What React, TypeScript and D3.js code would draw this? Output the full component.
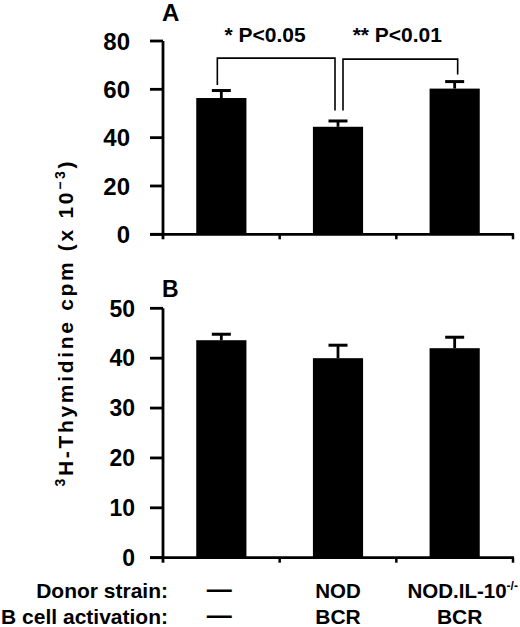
import * as d3 from "d3";
import React from "react";

// groups along the x axis
const groups = ["ctrl", "NOD", "NOD.IL-10"];
const donorLabels = ["—", "NOD", "NOD.IL-10"];
const activationLabels = ["—", "BCR", "BCR"];

// panel A: thymidine uptake (cpm x 10^-3)
const meanA = [56.4, 44.5, 60.3];
const errA = [3.1, 2.4, 2.9];
const ticksA = [0, 20, 40, 60, 80];

// panel B
const meanB = [43.6, 40.0, 42.0];
const errB = [1.2, 2.6, 2.2];
const ticksB = [0, 10, 20, 30, 40, 50];

// significance brackets for panel A (data units)
const sigA = [
  { from: 0, to: 1, label: "* P<0.05", level: 72.9, legs: [61.8, 51.2] },
  { from: 1, to: 2, label: "** P<0.01", level: 72.5, legs: [51.2, 66.1] },
];

const FONT = "'Liberation Sans', Arial, Helvetica, sans-serif";
const W = 520, H = 627;
const axisX = 163;

const x = d3.scaleBand<string>().domain(groups).range([axisX, 513]).paddingInner(0.57).paddingOuter(0.285);

type PanelProps = {
  means: number[]; errs: number[]; ticks: number[];
  y: d3.ScaleLinear<number, number>; letter: string; letterY: number; letterSize: number;
  tickSize: number; labelRight: number;
};

const Panel: React.FC<PanelProps> = ({ means, errs, ticks, y, letter, letterY, letterSize, tickSize, labelRight }) => {
  const y0 = y(0);
  const yTop = y(ticks[ticks.length - 1]);
  const bw = x.bandwidth();
  const step = x.step();
  const bounds = groups.map((g) => x(g)! - (step - bw) / 2 + step);
  return (
    <g>
      <text x={axisX - 1} y={letterY} fontSize={letterSize} fontWeight="bold" fontFamily={FONT}>{letter}</text>
      {groups.map((g, i) => {
        const cx = x(g)! + bw / 2;
        const top = y(means[i] + errs[i]);
        return (
          <g key={g}>
            <rect x={x(g)} y={y(means[i])} width={bw} height={y0 - y(means[i])} fill="#000" />
            <line x1={cx} x2={cx} y1={y(means[i])} y2={top} stroke="#000" strokeWidth={2.8} />
            <line x1={cx - 9.5} x2={cx + 9.5} y1={top} y2={top} stroke="#000" strokeWidth={3} />
          </g>
        );
      })}
      {/* y axis */}
      <line x1={axisX} x2={axisX} y1={yTop} y2={y0 + 5} stroke="#000" strokeWidth={2.8} />
      {ticks.map((t) => (
        <g key={t}>
          <line x1={axisX - 13} x2={axisX} y1={y(t)} y2={y(t)} stroke="#000" strokeWidth={2.8} />
          <text x={labelRight} y={y(t)} dy="0.36em" textAnchor="end" fontSize={tickSize} fontWeight="bold" fontFamily={FONT}>{t}</text>
        </g>
      ))}
      {/* x axis */}
      <line x1={axisX - 13} x2={bounds[bounds.length - 1] + 1} y1={y0} y2={y0} stroke="#000" strokeWidth={2.8} />
      {bounds.map((b, i) => (
        <line key={i} x1={b} x2={b} y1={y0} y2={y0 + 5} stroke="#000" strokeWidth={2.5} />
      ))}
    </g>
  );
};

export default function App() {
  const yA = d3.scaleLinear().domain([0, 80]).range([234.3, 41]);
  const yB = d3.scaleLinear().domain([0, 50]).range([557.7, 308.3]);
  const bw = x.bandwidth();
  const cx = (i: number) => x(groups[i])! + bw / 2;
  const legShift = [[-4, -3], [5, 3]];
  const sigLabelShift = [-11, -3];
  const donorShift = [-2, 0, 8];
  const actShift = [-2, 0, 5];

  return (
    <div style={{ position: "absolute", left: 0, top: 0 }}>
      <svg width={W} height={H} style={{ display: "block", background: "#fff" }}>
        <Panel means={meanA} errs={errA} ticks={ticksA} y={yA} letter="A" letterY={20.7} letterSize={24} tickSize={24} labelRight={130} />
        <Panel means={meanB} errs={errB} ticks={ticksB} y={yB} letter="B" letterY={296.7} letterSize={23} tickSize={23} labelRight={135} />

        {sigA.map((s, k) => {
          const xl = cx(s.from) + legShift[k][0];
          const xr = cx(s.to) + legShift[k][1];
          const yl = yA(s.level);
          return (
            <g key={k}>
              <path d={`M${xl},${yA(s.legs[0])}V${yl}H${xr}V${yA(s.legs[1])}`} fill="none" stroke="#000" strokeWidth={1.6} />
              <text x={(xl + xr) / 2 + sigLabelShift[k]} y={41.7} textAnchor="middle" fontSize={21} fontWeight="bold" fontFamily={FONT}>{s.label}</text>
            </g>
          );
        })}

        {/* y label */}
        <text transform="translate(73,324) rotate(-90)" textAnchor="middle" fontSize={21} fontWeight="bold" fontFamily={FONT} textLength={325} lengthAdjust="spacing">
          <tspan fontSize={14} dy={-8}>3</tspan>
          <tspan dy={8}>H-Thymidine cpm (x 10</tspan>
          <tspan fontSize={14} dy={-8}>−3</tspan>
          <tspan dy={8}>)</tspan>
        </text>

        {/* bottom condition table */}
        <text x={168} y={598} textAnchor="end" fontSize={21} fontWeight="bold" fontFamily={FONT}>Donor strain:</text>
        <text x={168} y={623.5} textAnchor="end" fontSize={21} fontWeight="bold" fontFamily={FONT}>B cell activation:</text>
        {donorLabels.map((l, i) => (
          <text key={"d" + i} x={cx(i) + donorShift[i]} y={598} textAnchor="middle" fontSize={i === 0 ? 25 : 20.5} fontWeight="bold" fontFamily={FONT}>
            {l}
            {i === 2 && <tspan fontSize={12} dy={-8}>-/-</tspan>}
          </text>
        ))}
        {activationLabels.map((l, i) => (
          <text key={"a" + i} x={cx(i) + actShift[i]} y={623.5} textAnchor="middle" fontSize={i === 0 ? 25 : 21} fontWeight="bold" fontFamily={FONT}>{l}</text>
        ))}
      </svg>
    </div>
  );
}
